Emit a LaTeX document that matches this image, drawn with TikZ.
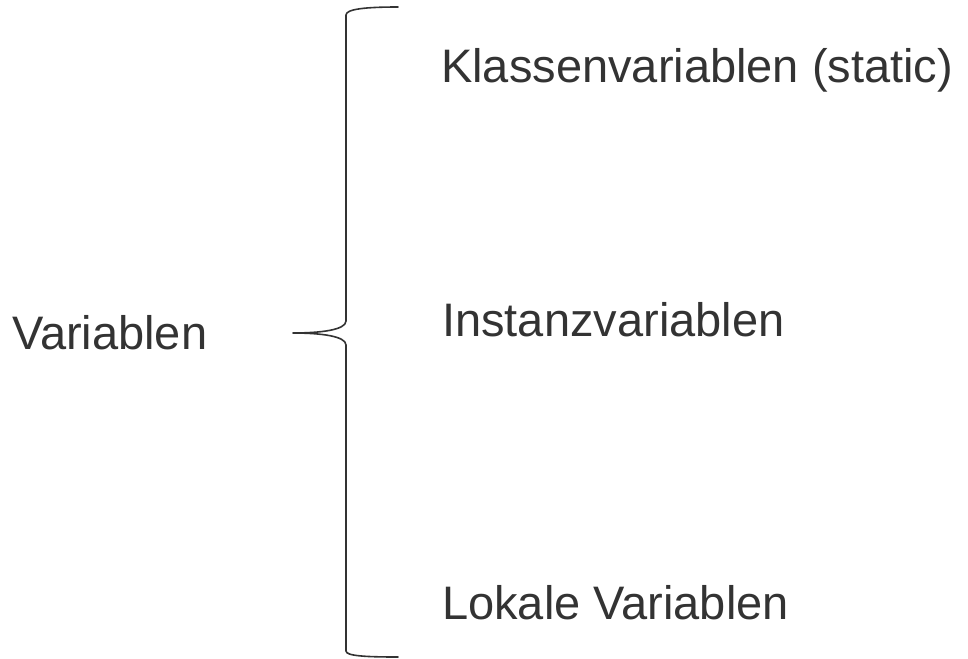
\documentclass[tikz,border=0pt]{standalone}
\usepackage{fontspec}
\setmainfont{Liberation Sans}
\definecolor{ink}{HTML}{333333}
\tikzset{
  label text/.style={anchor=base west, inner sep=0pt, text=ink,
    font=\fontsize{47}{52}\selectfont},
  brace line/.style={draw=ink, line width=1.6pt, line cap=round, line join=round}
}
\begin{document}
\begin{tikzpicture}[x=1pt, y=-1pt]
  \useasboundingbox (0,0) rectangle (968,658);
  % labels
  \node[label text] (root)  at (12,349) {Variablen};
  \node[label text] (klass) at (441,83)  {Klassenvariablen (static)};
  \node[label text] (inst)  at (442,336) {Instanzvariablen};
  \node[label text] (lokal) at (442,619) {Lokale Variablen};
  % curly brace
  \coordinate (btop) at (398,7);
  \coordinate (tip)  at (293,333);
  \coordinate (bbot) at (398,657);
  \draw[brace line] (btop) .. controls (366,7) and (346,9) .. (346,15)
    -- (346,321) .. controls (346,330) and (320,333) .. (tip)
    .. controls (320,333) and (346,336) .. (346,345)
    -- (346,651) .. controls (346,656) and (366,657) .. (bbot);
\end{tikzpicture}
\end{document}
